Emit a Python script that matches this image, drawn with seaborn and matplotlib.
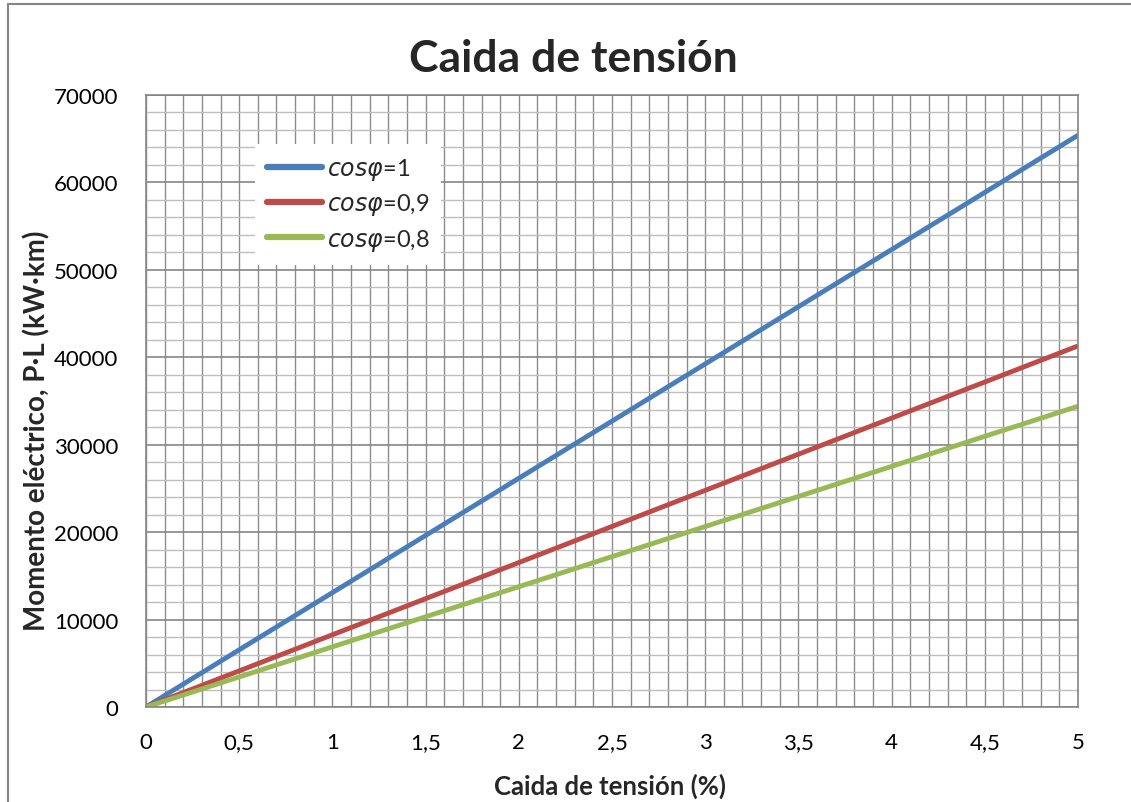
import matplotlib
matplotlib.use("Agg")
import matplotlib.pyplot as plt
import seaborn as sns
import pandas as pd
from matplotlib.ticker import MultipleLocator, FuncFormatter
from matplotlib.lines import Line2D

# Data
caida = [0, 1, 2, 3, 4, 5]
cos_1 = [0, 13080, 26160, 39240, 52320, 65400]
cos_09 = [0, 8260, 16520, 24780, 33040, 41300]
cos_08 = [0, 6880, 13760, 20640, 27520, 34400]
series_names = [r"$cos\varphi$=1", r"$cos\varphi$=0,9", r"$cos\varphi$=0,8"]
colors = ["#4A7EBB", "#BE4B48", "#98B954"]

df = pd.DataFrame({
    "x": caida * 3,
    "y": cos_1 + cos_09 + cos_08,
    "serie": [series_names[0]] * len(caida) + [series_names[1]] * len(caida) + [series_names[2]] * len(caida),
})

sns.set_theme(style="white")
plt.rcParams["font.family"] = ["Lato", "DejaVu Sans"]
plt.rcParams["mathtext.fontset"] = "dejavusans"

W, H = 1131, 803
fig = plt.figure(figsize=(W / 100, H / 100), dpi=100)
L, R, T, B = 146, 1078, 96, 708
ax = fig.add_axes([L / W, 1 - B / H, (R - L) / W, (B - T) / H])

# grid
ax.set_xlim(0, 5)
ax.set_ylim(0, 70000)
ax.xaxis.set_major_locator(MultipleLocator(0.5))
ax.xaxis.set_minor_locator(MultipleLocator(0.1))
ax.yaxis.set_major_locator(MultipleLocator(10000))
ax.yaxis.set_minor_locator(MultipleLocator(2000))
ax.grid(which="minor", axis="x", color="#8C8C8C", linewidth=1.0)
ax.grid(which="major", axis="x", color="#8C8C8C", linewidth=1.0)
ax.grid(which="minor", axis="y", color="#BEBEBE", linewidth=1.0)
ax.grid(which="major", axis="y", color="#868686", linewidth=1.2)
ax.set_axisbelow(True)

sns.lineplot(data=df, x="x", y="y", hue="serie", palette=colors, linewidth=3.5,
             ax=ax, legend=True, solid_capstyle="butt")

for s in ax.spines.values():
    s.set_color("#868686")
    s.set_linewidth(1.2)

ax.tick_params(which="both", length=0)
ax.tick_params(axis="x", labelsize=16, pad=18, colors="black")
ax.tick_params(axis="y", labelsize=16, pad=20, colors="black")
ax.xaxis.set_major_formatter(FuncFormatter(lambda v, p: ("%g" % v).replace(".", ",")))
ax.yaxis.set_major_formatter(FuncFormatter(lambda v, p: "%d" % v))

ax.set_xlabel("Caida de tensión (%)", fontsize=18.5, fontweight="bold", va="center")
ax.xaxis.set_label_coords((610 - L) / (R - L), (B - 786) / (B - T))
ax.set_ylabel("Momento eléctrico, P·L (kW·km)", fontsize=20, fontweight="bold", va="center")
ax.yaxis.set_label_coords((37 - L) / (R - L), (B - 431) / (B - T))

fig.text(573 / W, 1 - 59 / H, "Caida de tensión", fontsize=32, fontweight="bold",
         ha="center", va="center")

leg = ax.legend(loc="upper left", bbox_to_anchor=((255 - L) / (R - L), (B - 145) / (B - T)),
                borderaxespad=0, frameon=True, fancybox=False, framealpha=1,
                edgecolor="white", fontsize=17, handlelength=2.35, handletextpad=0.2,
                labelspacing=0.4, borderpad=0.5)
leg.get_frame().set_linewidth(0)
for h in leg.get_lines():
    h.set_linewidth(4.5)
    h.set_solid_capstyle("round")

# outer chart border (extends past right/bottom edge like the reference)
fig.add_artist(Line2D([8 / W, 8 / W], [0, 1 - 5 / H], transform=fig.transFigure,
                      color="#868686", linewidth=1.5))
fig.add_artist(Line2D([8 / W, 1], [1 - 5 / H, 1 - 5 / H], transform=fig.transFigure,
                      color="#868686", linewidth=1.5))

fig.savefig("out.png", dpi=100)
